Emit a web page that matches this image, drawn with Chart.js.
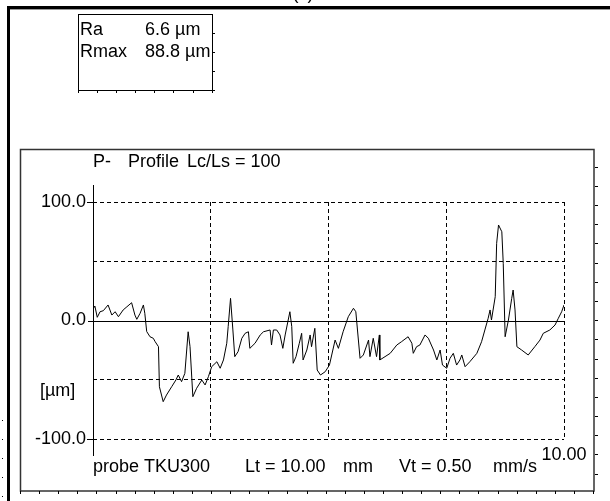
<!DOCTYPE html>
<html>
<head>
<meta charset="utf-8">
<script src="https://cdn.jsdelivr.net/npm/chart.js@4"></script>
<style>
  html, body { margin: 0; padding: 0; background: #fff; }
  #wrap { width: 610px; height: 501px; }
</style>
</head>
<body>
<div id="wrap"><canvas id="profile" width="610" height="501"></canvas></div>
<script>
// profile trace: position along the trace [mm] and height [µm]
const positionsMm = [
  0.01, 0.04, 0.09, 0.15, 0.22, 0.32, 0.40, 0.47, 0.54, 0.64, 0.72, 0.82, 0.89, 0.93, 1.00, 1.07,
  1.10, 1.14, 1.21, 1.28, 1.32, 1.39, 1.41, 1.49, 1.56, 1.67, 1.76, 1.81, 1.88, 1.95, 2.02, 2.06,
  2.12, 2.20, 2.31, 2.38, 2.45, 2.52, 2.63, 2.70, 2.77, 2.84, 2.87, 2.92, 2.97, 3.01, 3.08, 3.16,
  3.23, 3.30, 3.33, 3.44, 3.55, 3.62, 3.76, 3.79, 3.83, 3.90, 3.97, 4.03, 4.08, 4.18, 4.22, 4.25,
  4.31, 4.38, 4.43, 4.46, 4.54, 4.61, 4.64, 4.71, 4.76, 4.83, 4.93, 5.02, 5.14, 5.21, 5.31, 5.42,
  5.53, 5.58, 5.67, 5.74, 5.85, 5.88, 5.95, 6.02, 6.08, 6.09, 6.20, 6.31, 6.45, 6.55, 6.69, 6.77,
  6.80, 6.87, 6.94, 7.05, 7.12, 7.23, 7.30, 7.37, 7.42, 7.51, 7.58, 7.65, 7.72, 7.79, 7.83, 7.90,
  8.00, 8.15, 8.25, 8.32, 8.39, 8.43, 8.46, 8.54, 8.57, 8.61, 8.68, 8.71, 8.75, 8.82, 8.89, 8.92,
  8.96, 9.00, 9.10, 9.24, 9.38, 9.49, 9.56, 9.70, 9.81, 9.88, 9.95, 10.0
];
const profileUm = [
  10.3, 12.2, 2.7, 7.4, 8.3, 13.1, 4.6, 7.4, 3.2, 8.9, 11.6, 15.0, 4.6, 1.0, 6.1, 13.1,
  6.1, -9.3, -13.7, -15.0, -17.9, -22.1, -55.9, -68.5, -62.9, -55.9, -50.2, -46.0, -51.6, -44.6, -9.5, -22.1,
  -64.3, -57.2, -50.2, -54.4, -47.4, -39.0, -34.8, -40.3, -33.3, -19.2, -5.2, 18.7, -8.0, -30.5, -26.3, -15.0,
  -10.8, -9.5, -23.5, -19.2, -12.2, -9.5, -8.0, -20.7, -8.0, -8.0, -12.2, -23.5, -12.2, 7.4, -5.2, -36.1,
  -30.5, -19.2, -10.8, -33.3, -24.9, -12.2, -22.1, -6.6, -41.8, -46.0, -43.2, -37.6, -16.5, -23.5, -9.5, 3.2,
  10.3, 7.4, -31.9, -29.1, -16.5, -30.5, -15.0, -30.5, -12.2, -33.3, -30.5, -27.7, -20.7, -17.9, -13.7, -19.2,
  -27.7, -22.1, -20.7, -12.2, -15.0, -24.9, -33.3, -24.9, -37.6, -40.3, -31.9, -27.7, -37.6, -33.3, -29.1, -39.0,
  -34.8, -27.7, -17.9, -8.0, 1.9, 8.9, 0.4, 20.1, 65.1, 80.6, 74.9, 48.3, -13.7, 0.4, 18.7, 25.7,
  8.9, -22.1, -24.9, -29.1, -22.1, -16.5, -10.8, -8.0, -3.8, 1.9, 7.4, 13.1
];
const yLabeled = [-100, 0, 100];
const xLabeled = [10];
const statNames = ['Ra', 'Rmax'];
const statValues = ['6.6 µm', '88.8 µm'];

const FONT = '18px "Liberation Sans", Arial, sans-serif';
Chart.defaults.font.family = '"Liberation Sans", Arial, sans-serif';
Chart.defaults.font.size = 18;
Chart.defaults.color = '#000';

function txt(ctx, s, x, y, align) {
  ctx.textAlign = align || 'left';
  ctx.fillText(s, x, y);
}

const decor = {
  id: 'decor',
  beforeDatasetsDraw(chart) {
    const { ctx, scales: { x, y } } = chart;
    const y0 = y.getPixelForValue(0);
    const x0 = x.getPixelForValue(0);
    ctx.save();
    ctx.strokeStyle = '#000';
    ctx.lineWidth = 1;
    ctx.beginPath();
    // axis lines
    ctx.moveTo(x0 + 0.5, chart.chartArea.top - 17);
    ctx.lineTo(x0 + 0.5, chart.chartArea.bottom + 17);
    ctx.moveTo(x0 - 5, Math.round(y0) + 0.5);
    ctx.lineTo(x.getPixelForValue(10), Math.round(y0) + 0.5);
    [100, -100].forEach(v => {
      const p = Math.round(y.getPixelForValue(v)) + 0.5;
      ctx.moveTo(x0 - 6, p);
      ctx.lineTo(x0, p);
    });
    ctx.stroke();
    ctx.restore();
  },
  afterDraw(chart) {
    const { ctx } = chart;
    ctx.save();
    ctx.fillStyle = '#000';
    // outer frame
    ctx.fillRect(7, 6, 603, 3);
    ctx.fillRect(7, 6, 3, 495);
    ctx.fillStyle = '#999';
    ctx.fillRect(10, 9, 600, 1);
    ctx.fillStyle = '#000';
    for (let yy = 420; yy < 501; yy += 19) ctx.fillRect(2, yy, 1, 1);

    ctx.font = FONT;
    ctx.textBaseline = 'alphabetic';
    txt(ctx, '(c)', 303, -1, 'center');

    // stats box
    ctx.strokeStyle = '#000';
    ctx.lineWidth = 1;
    ctx.strokeRect(78.5, 14.5, 134, 76);
    ctx.beginPath();
    for (let xx = 78; xx <= 213; xx += 19.1) { ctx.moveTo(Math.round(xx) + 0.5, 91); ctx.lineTo(Math.round(xx) + 0.5, 93); }
    for (let yy = 33; yy <= 91; yy += 19) { ctx.moveTo(213, yy + 0.5); ctx.lineTo(215, yy + 0.5); }
    ctx.stroke();
    ctx.save();
    ctx.beginPath();
    ctx.rect(79, 15, 133, 75);
    ctx.clip();
    ctx.textBaseline = 'middle';
    statNames.forEach((n, i) => {
      txt(ctx, n, 80, 30 + i * 22);
      txt(ctx, statValues[i], 145, 30 + i * 22);
    });
    ctx.restore();

    // panel
    ctx.strokeStyle = '#333';
    ctx.lineWidth = 1.5;
    ctx.strokeRect(20.5, 149.5, 573.5, 341.5);
    ctx.lineWidth = 1;
    ctx.strokeStyle = '#000';
    ctx.beginPath();
    for (let xx = 20; xx <= 595; xx += 19.1) { ctx.moveTo(Math.round(xx) + 0.5, 491); ctx.lineTo(Math.round(xx) + 0.5, 494); }
    for (let yy = 166.7; yy <= 491; yy += 19.18) { ctx.moveTo(595, Math.round(yy) + 0.5); ctx.lineTo(598, Math.round(yy) + 0.5); }
    ctx.stroke();

    ctx.textBaseline = 'middle';
    txt(ctx, 'P-', 93, 162);
    txt(ctx, 'Profile', 128, 162);
    txt(ctx, 'Lc/Ls = 100', 187, 162);
    txt(ctx, '[µm]', 40, 391);
    txt(ctx, 'probe TKU300', 93, 467);
    txt(ctx, 'Lt = 10.00', 245, 467);
    txt(ctx, 'mm', 343, 467);
    txt(ctx, 'Vt = 0.50', 399, 467);
    txt(ctx, 'mm/s', 493, 467);
    ctx.restore();
  }
};

const gridColor = c => (c.tick && c.tick.value === 0) ? 'rgba(0,0,0,0)' : '#000';

new Chart(document.getElementById('profile'), {
  type: 'line',
  data: {
    datasets: [{
      label: 'P-Profile',
      data: positionsMm.map((v, i) => ({ x: v, y: profileUm[i] })),
      borderColor: '#000',
      borderWidth: 1,
      pointRadius: 0,
      tension: 0,
      fill: false
    }]
  },
  options: {
    responsive: false,
    animation: false,
    layout: { padding: { left: 0, right: 46, top: 202, bottom: 0 } },
    plugins: { legend: { display: false }, tooltip: { enabled: false }, title: { display: false } },
    scales: {
      x: {
        type: 'linear',
        min: 0,
        max: 10,
        afterFit: s => { s.height = 62; },
        ticks: {
          stepSize: 2.5,
          autoSkip: false,
          maxRotation: 0,
          padding: 5,
          color: '#000',
          callback: v => xLabeled.includes(v) ? v.toFixed(2) : ''
        },
        grid: { color: gridColor, lineWidth: 1, drawTicks: false },
        border: { display: false, dash: [4, 3] }
      },
      y: {
        type: 'linear',
        min: -100,
        max: 100,
        afterFit: s => { s.width = 93; },
        ticks: {
          stepSize: 50,
          padding: 7,
          color: '#000',
          callback: v => yLabeled.includes(v) ? v.toFixed(1) : ''
        },
        grid: { color: gridColor, lineWidth: 1, drawTicks: false },
        border: { display: false, dash: [4, 3] }
      }
    }
  },
  plugins: [decor]
});
</script>
</body>
</html>
